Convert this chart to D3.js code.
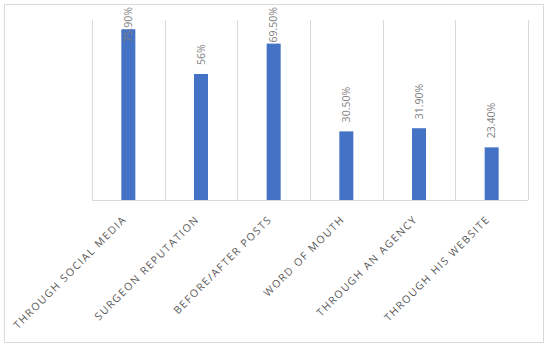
<!DOCTYPE html>
<html><head><meta charset="utf-8">
<script src="https://cdn.jsdelivr.net/npm/d3@7"></script>
<style>body{margin:0;background:#fff;} svg{display:block;}</style>
</head><body>
<script>
const categories = ["THROUGH SOCIAL MEDIA","SURGEON REPUTATION","BEFORE/AFTER POSTS","WORD OF MOUTH","THROUGH AN AGENCY","THROUGH HIS WEBSITE"];
const values = [75.9, 56, 69.5, 30.5, 31.9, 23.4];
const valueLabels = ["75.90%","56%","69.50%","30.50%","31.90%","23.40%"];

(function(){
const W = 550, H = 348;
const svg = d3.select("body").append("svg").attr("width", W).attr("height", H);
svg.append("rect").attr("x",4.5).attr("y",4.5).attr("width",539).attr("height",338)
  .attr("fill","#fff").attr("stroke","#d9d9d9");

const pl = 92, pr = 528, pt = 20, pb = 200;
const x = d3.scaleBand().domain(categories).range([pl, pr]).padding(0);
const y = d3.scaleLinear().domain([0, 80]).range([pb, pt]);

const bounds = categories.map(c => x(c)).concat([x(categories[categories.length-1]) + x.bandwidth()]);
svg.append("g").selectAll("line").data(bounds).join("line")
  .attr("x1", d => Math.round(d) + 0.5).attr("x2", d => Math.round(d) + 0.5)
  .attr("y1", pt).attr("y2", pb)
  .attr("stroke", "#d9d9d9");
svg.append("line").attr("x1", pl).attr("x2", pr).attr("y1", pb + 0.5).attr("y2", pb + 0.5)
  .attr("stroke", "#d9d9d9");

const bw = 14;
svg.append("g").selectAll("rect").data(values).join("rect")
  .attr("x", (d,i) => x(categories[i]) + x.bandwidth()/2 - bw/2)
  .attr("width", bw)
  .attr("y", d => y(d))
  .attr("height", d => pb - y(d))
  .attr("fill", "#4472c4");

const lab = svg.append("g").style("font-family","'Open Sans', sans-serif").style("font-size","10.5px").attr("fill","#7f7f7f");
values.forEach((v,i) => {
  const cx = x(categories[i]) + x.bandwidth()/2;
  const t = lab.append("text").text(valueLabels[i]).attr("text-anchor","start").attr("dy","0.35em");
  const len = t.node().getComputedTextLength();
  let start = y(v) - 9;
  if (start - len < 7) start = 7 + len;
  t.attr("transform", `translate(${cx},${start}) rotate(-90)`);
});

const cl = svg.append("g").style("font-family","'Open Sans', sans-serif").style("font-size","10.5px")
  .style("letter-spacing","1.5px").attr("fill","#595959");
categories.forEach((c,i) => {
  const cx = x(c) + x.bandwidth()/2;
  cl.append("text").text(c).attr("text-anchor","end")
    .attr("transform", `translate(${cx-1},${220}) rotate(-45)`);
});
})();
</script>
</body></html>
